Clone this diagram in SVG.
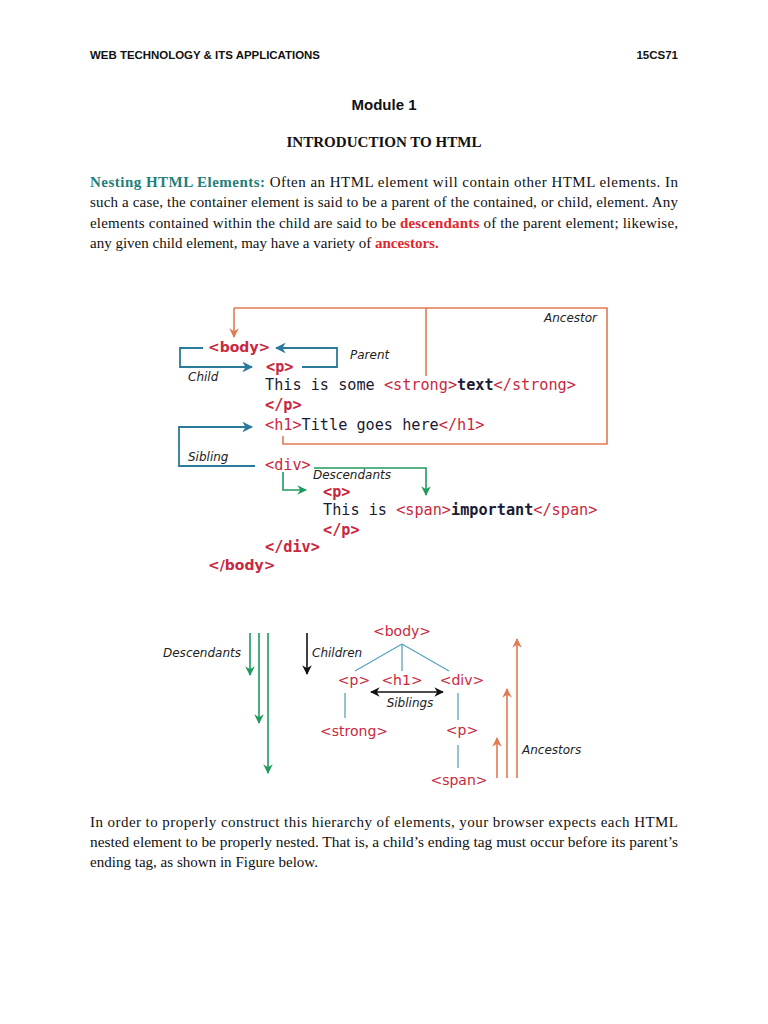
<svg xmlns="http://www.w3.org/2000/svg" width="768" height="1024" viewBox="0 0 768 1024">
<defs>
<style>
.hdr{font-family:"Liberation Sans",Arial,sans-serif;font-weight:bold;font-size:11.5px;fill:#111}
.serif{font-family:"Liberation Serif","Times New Roman",serif;font-size:15px;fill:#111}
.code{font-family:"DejaVu Sans Mono","Liberation Mono",monospace;font-size:15.2px;fill:#1a1a33}
.tag{fill:#c9283e}
.btag{font-family:"DejaVu Sans","Liberation Sans",sans-serif;font-weight:bold;font-size:14px;fill:#c9283e}
.node{font-family:"DejaVu Sans","Liberation Sans",sans-serif;font-size:14px;fill:#c9283e;text-anchor:middle}
.lbl{font-family:"DejaVu Sans","Liberation Sans",sans-serif;font-style:italic;font-size:12px;fill:#222}
.or{stroke:#e07a52;stroke-width:1.6;fill:none}
.bl{stroke:#2a7b9b;stroke-width:1.8;fill:none}
.gr{stroke:#1f9a5c;stroke-width:1.6;fill:none}
.tr{stroke:#5aa3bf;stroke-width:1.3;fill:none}
.bk{stroke:#111;stroke-width:1.6;fill:none}
</style>
<marker id="aOr" viewBox="0 0 10 10" refX="9" refY="5" markerWidth="6" markerHeight="6" orient="auto-start-reverse"><path d="M0,0 L10,5 L0,10 L3,5 z" fill="#e07a52"/></marker>
<marker id="aBl" viewBox="0 0 10 10" refX="9" refY="5" markerWidth="6" markerHeight="6" orient="auto-start-reverse"><path d="M0,0 L10,5 L0,10 L3,5 z" fill="#2a7b9b"/></marker>
<marker id="aGr" viewBox="0 0 10 10" refX="9" refY="5" markerWidth="6" markerHeight="6" orient="auto-start-reverse"><path d="M0,0 L10,5 L0,10 L3,5 z" fill="#1f9a5c"/></marker>
<marker id="aBk" viewBox="0 0 10 10" refX="9" refY="5" markerWidth="6" markerHeight="6" orient="auto-start-reverse"><path d="M0,0 L10,5 L0,10 L3,5 z" fill="#111"/></marker>
</defs>
<rect width="768" height="1024" fill="#fff"/>

<g id="header">
<text class="hdr" x="90" y="59" textLength="230" lengthAdjust="spacingAndGlyphs">WEB TECHNOLOGY &amp; ITS APPLICATIONS</text>
<text class="hdr" x="678" y="59" text-anchor="end">15CS71</text>
<text x="384" y="110" text-anchor="middle" style="font-family:'Liberation Sans',Arial,sans-serif;font-weight:bold;font-size:15px;fill:#111">Module 1</text>
<text x="384" y="147" text-anchor="middle" textLength="195" lengthAdjust="spacingAndGlyphs" style="font-family:'Liberation Serif','Times New Roman',serif;font-weight:bold;font-size:14.5px;fill:#111">INTRODUCTION TO HTML</text>
</g>

<g id="para1">
<text class="serif" x="90" y="187" textLength="588" lengthAdjust="spacing"><tspan style="font-weight:bold;fill:#1f7f7a">Nesting HTML Elements:</tspan>  Often an HTML element will contain other HTML elements. In</text>
<text class="serif" x="90" y="207" textLength="588" lengthAdjust="spacing">such a case, the container element is said to be a parent of the contained, or child, element. Any</text>
<text class="serif" x="90" y="228" textLength="588" lengthAdjust="spacing">elements contained within the child are said to be <tspan style="font-weight:bold;fill:#e0262e">descendants</tspan> of the parent element; likewise,</text>
<text class="serif" x="90" y="248">any given child element, may have a variety of <tspan style="font-weight:bold;fill:#e0262e">ancestors.</tspan></text>
</g>

<g id="connectors">
<!-- Ancestor box -->
<path class="or" d="M234,308 H607 V444 H283 V436"/>
<path class="or" d="M234,308 V337" marker-end="url(#aOr)"/>
<path class="or" d="M426,308 V376"/>
<!-- Child -->
<path class="bl" d="M203,348 H180 V367 H252" marker-end="url(#aBl)"/>
<!-- Parent -->
<path class="bl" d="M302,367 H337 V348 H276" marker-end="url(#aBl)"/>
<!-- Sibling -->
<path class="bl" d="M255,466 H179 V427 H252" marker-end="url(#aBl)"/>
<!-- Descendants (code) -->
<path class="gr" d="M283,472 V490 H306" marker-end="url(#aGr)"/>
<path class="gr" d="M314,468 H426 V495" marker-end="url(#aGr)"/>

<!-- tree lines -->
<path class="tr" d="M402,644 L355,671 M402,644 V671 M402,644 L449,671"/>
<path class="tr" d="M345,693 V718"/>
<path class="tr" d="M458,693 V720"/>
<path class="tr" d="M458,745 V768"/>
<!-- Siblings double arrow -->
<path class="bk" d="M371,692 H443" marker-start="url(#aBk)" marker-end="url(#aBk)"/>
<!-- Descendants arrows -->
<path class="gr" d="M250,633 V675" marker-end="url(#aGr)"/>
<path class="gr" d="M259,633 V723" marker-end="url(#aGr)"/>
<path class="gr" d="M268,633 V773" marker-end="url(#aGr)"/>
<!-- Children arrow -->
<path class="bk" d="M307,633 V674" marker-end="url(#aBk)"/>
<!-- Ancestors arrows -->
<path class="or" d="M497,778 V738" marker-end="url(#aOr)"/>
<path class="or" d="M507,778 V689" marker-end="url(#aOr)"/>
<path class="or" d="M517,778 V639" marker-end="url(#aOr)"/>
</g>

<g id="code">
<text class="btag" x="208" y="352">&lt;body&gt;</text>
<text class="code" x="266" y="372"><tspan class="tag" font-weight="bold">&lt;p&gt;</tspan></text>
<text class="code" x="265" y="390">This is some <tspan class="tag">&lt;strong&gt;</tspan><tspan font-weight="bold">text</tspan><tspan class="tag">&lt;/strong&gt;</tspan></text>
<text class="code" x="265" y="410"><tspan class="tag" font-weight="bold">&lt;/p&gt;</tspan></text>
<text class="code" x="265" y="430"><tspan class="tag">&lt;h1&gt;</tspan>Title goes here<tspan class="tag">&lt;/h1&gt;</tspan></text>
<text class="code" x="265" y="470"><tspan class="tag">&lt;div&gt;</tspan></text>
<text class="code" x="323" y="497"><tspan class="tag" font-weight="bold">&lt;p&gt;</tspan></text>
<text class="code" x="323" y="515">This is <tspan class="tag">&lt;span&gt;</tspan><tspan font-weight="bold">important</tspan><tspan class="tag">&lt;/span&gt;</tspan></text>
<text class="code" x="323" y="535"><tspan class="tag" font-weight="bold">&lt;/p&gt;</tspan></text>
<text class="code" x="265" y="552"><tspan class="tag" font-weight="bold">&lt;/div&gt;</tspan></text>
<text class="btag" x="208" y="570">&lt;/body&gt;</text>
</g>

<g id="labels">
<text class="lbl" x="597" y="322" text-anchor="end">Ancestor</text>
<text class="lbl" x="350" y="359">Parent</text>
<text class="lbl" x="188" y="381">Child</text>
<text class="lbl" x="188" y="461">Sibling</text>
<text class="lbl" x="313" y="479">Descendants</text>
<text class="lbl" x="163" y="657">Descendants</text>
<text class="lbl" x="312" y="657">Children</text>
<text class="lbl" x="410" y="707" text-anchor="middle">Siblings</text>
<text class="lbl" x="522" y="754">Ancestors</text>
</g>

<g id="tree">
<g id="n-body"><text class="node" x="402" y="636">&lt;body&gt;</text></g>
<g id="n-p"><text class="node" x="354" y="685">&lt;p&gt;</text></g>
<g id="n-h1"><text class="node" x="402" y="685">&lt;h1&gt;</text></g>
<g id="n-div"><text class="node" x="462" y="685">&lt;div&gt;</text></g>
<g id="n-strong"><text class="node" x="354" y="736">&lt;strong&gt;</text></g>
<g id="n-p2"><text class="node" x="462" y="735">&lt;p&gt;</text></g>
<g id="n-span"><text class="node" x="459" y="785">&lt;span&gt;</text></g>
</g>

<g id="para2">
<text class="serif" x="90" y="827" textLength="588" lengthAdjust="spacing">In order to properly construct this hierarchy of elements, your browser expects each HTML</text>
<text class="serif" x="90" y="847" textLength="588" lengthAdjust="spacingAndGlyphs">nested element to be properly nested. That is, a child’s ending tag must occur before its parent’s</text>
<text class="serif" x="90" y="867" textLength="228" lengthAdjust="spacingAndGlyphs">ending tag, as shown in Figure below.</text>
</g>
</svg>
